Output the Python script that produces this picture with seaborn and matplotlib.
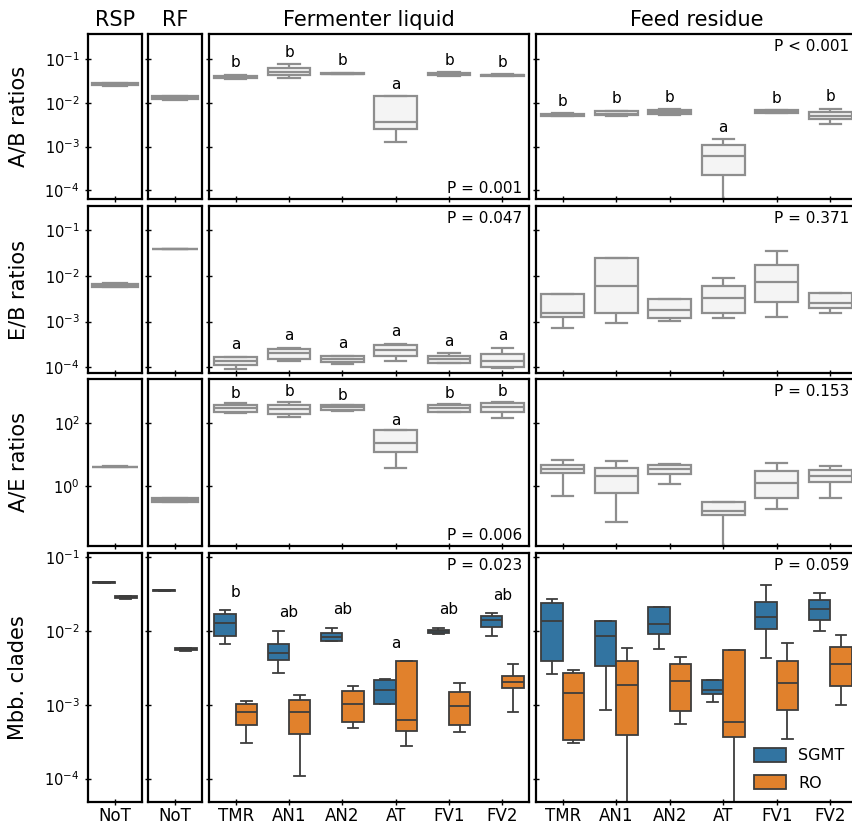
import matplotlib
matplotlib.use("Agg")
import matplotlib.pyplot as plt
import numpy as np
import pandas as pd
import seaborn as sns
from matplotlib.ticker import FixedLocator, NullLocator, LogFormatterSciNotation

# ---------------- data (five-number values per box: min, q1, median, q3, max) -------------
groups = ["TMR", "AN1", "AN2", "AT", "FV1", "FV2"]
not_group = ["NoT"]
hues = ["SGMT", "RO"]
col_titles = ["RSP", "RF", "Fermenter liquid", "Feed residue"]
row_labels = ["A/B ratios", "E/B ratios", "A/E ratios", "Mbb. clades"]

# A/B ratios
ab_rsp = [[0.025, 0.0258, 0.0268, 0.0285, 0.029]]
ab_rf = [[0.0117, 0.0125, 0.0135, 0.0145, 0.0147]]
ab_ferm = [
    [0.036, 0.037, 0.039, 0.042, 0.044],
    [0.038, 0.0436, 0.052, 0.062, 0.078],
    [0.045, 0.046, 0.047, 0.048, 0.049],
    [0.0013, 0.0025, 0.0036, 0.0142, 0.0142],
    [0.042, 0.044, 0.046, 0.049, 0.051],
    [0.041, 0.042, 0.043, 0.044, 0.045],
]
ab_feed = [
    [0.0049, 0.0050, 0.0053, 0.0057, 0.0058],
    [0.0050, 0.0052, 0.0056, 0.0066, 0.0067],
    [0.0053, 0.0055, 0.0062, 0.0070, 0.0072],
    [0.00001, 0.000225, 0.00062, 0.00108, 0.00148],
    [0.0058, 0.0060, 0.0064, 0.0068, 0.0069],
    [0.0033, 0.0044, 0.0051, 0.0062, 0.0073],
]
# E/B ratios
eb_rsp = [[0.0056, 0.0058, 0.0062, 0.0066, 0.00685]]
eb_rf = [[0.0375, 0.0378, 0.038, 0.0382, 0.0385]]
eb_ferm = [
    [0.0000912, 0.000113, 0.000138, 0.000166, 0.00017],
    [0.000142, 0.000151, 0.000204, 0.000251, 0.000269],
    [0.000118, 0.000133, 0.000155, 0.000178, 0.000180],
    [0.000140, 0.000178, 0.00024, 0.000303, 0.000329],
    [0.000125, 0.000128, 0.000155, 0.000182, 0.000204],
    [0.0000995, 0.000101, 0.000138, 0.000193, 0.000269],
]
eb_feed = [
    [0.000713, 0.00128, 0.00151, 0.00394, 0.00394],
    [0.000918, 0.00157, 0.00608, 0.0241, 0.0241],
    [0.00105, 0.0012, 0.00177, 0.00311, 0.00311],
    [0.00118, 0.00151, 0.00333, 0.00598, 0.0088],
    [0.00128, 0.00264, 0.00745, 0.0172, 0.0348],
    [0.00157, 0.00195, 0.00251, 0.00428, 0.00428],
]
# A/E ratios
ae_rsp = [[4.1, 4.15, 4.2, 4.25, 4.3]]
ae_rf = [[0.318, 0.33, 0.37, 0.42, 0.437]]
ae_ferm = [
    [218, 223, 299, 390, 432],
    [155, 193, 285, 392, 487],
    [255, 270, 320, 370, 380],
    [3.95, 12, 24, 61, 61],
    [225, 230, 300, 380, 420],
    [152, 224, 337, 433, 487],
]
ae_feed = [
    [0.49, 2.63, 3.6, 4.7, 6.8],
    [0.076, 0.625, 2.1, 3.98, 6.2],
    [1.16, 2.45, 3.7, 4.7, 5.1],
    [0.005, 0.126, 0.168, 0.324, 0.324],
    [0.19, 0.42, 1.3, 3.0, 5.5],
    [0.43, 1.36, 2.17, 3.3, 4.3],
]
# Mbb. clades (SGMT / RO)
mbb_rsp_sgmt = [[0.0445, 0.0448, 0.0453, 0.0458, 0.046]]
mbb_rsp_ro = [[0.027, 0.0278, 0.0288, 0.0298, 0.030]]
mbb_rf_sgmt = [[0.0348, 0.035, 0.0352, 0.0354, 0.0356]]
mbb_rf_ro = [[0.0054, 0.0055, 0.00565, 0.0058, 0.0059]]
mbb_ferm_sgmt = [
    [0.00673, 0.00864, 0.01285, 0.0168, 0.0189],
    [0.0027, 0.00405, 0.00504, 0.0066, 0.0100],
    [0.0073, 0.0074, 0.00838, 0.0094, 0.0111],
    [0.00101, 0.00103, 0.00158, 0.00214, 0.00221],
    [0.0091, 0.0093, 0.0099, 0.0103, 0.0110],
    [0.00864, 0.0112, 0.0140, 0.0160, 0.0172],
]
mbb_ferm_ro = [
    [0.000302, 0.00053, 0.000804, 0.00102, 0.00113],
    [0.000108, 0.000404, 0.000804, 0.00116, 0.00137],
    [0.000479, 0.000583, 0.00103, 0.00152, 0.00179],
    [0.000276, 0.00044, 0.00062, 0.00388, 0.0039],
    [0.000422, 0.000536, 0.00097, 0.00149, 0.00195],
    [0.000804, 0.0017, 0.00206, 0.00248, 0.00357],
]
mbb_feed_sgmt = [
    [0.00258, 0.00392, 0.01352, 0.0238, 0.0272],
    [0.000848, 0.00339, 0.00863, 0.01352, 0.0138],
    [0.00575, 0.0091, 0.01233, 0.0208, 0.0210],
    [0.00108, 0.00141, 0.00158, 0.00216, 0.00216],
    [0.00426, 0.01054, 0.0155, 0.0245, 0.0421],
    [0.0100, 0.01396, 0.0197, 0.0261, 0.0325],
]
mbb_feed_ro = [
    [0.000305, 0.000329, 0.001455, 0.00267, 0.00296],
    [0.00001, 0.000388, 0.00185, 0.00388, 0.00587],
    [0.000542, 0.000822, 0.0021, 0.00356, 0.0044],
    [0.00001, 0.000361, 0.000589, 0.00552, 0.00552],
    [0.000339, 0.000855, 0.00197, 0.00392, 0.00687],
    [0.00098, 0.00179, 0.00356, 0.00601, 0.00883],
]

# significance letters (None = no letters)
letters_ferm = [
    ["b", "b", "b", "a", "b", "b"],
    ["a", "a", "a", "a", "a", "a"],
    ["b", "b", "b", "a", "b", "b"],
    ["b", "ab", "ab", "a", "ab", "ab"],
]
letters_feed = [
    ["b", "b", "b", "a", "b", "b"],
    None,
    None,
    None,
]
p_ferm = ["P = 0.001", "P = 0.047", "P = 0.006", "P = 0.023"]
p_ferm_pos = ["lower", "upper", "lower", "upper"]
p_feed = ["P < 0.001", "P = 0.371", "P = 0.153", "P = 0.059"]
p_feed_pos = ["upper", "upper", "upper", "upper"]

row_ticks = [[1e-4, 1e-3, 1e-2, 1e-1], [1e-4, 1e-3, 1e-2, 1e-1], [1e0, 1e2], [1e-4, 1e-3, 1e-2, 1e-1]]
row_ylim = [(10 ** -4.2, 10 ** -0.42), (10 ** -4.12, 10 ** -0.48), (10 ** -1.886, 10 ** 3.406),
            (10 ** -4.317, 10 ** -0.946)]
letter_off = [12, 12, 10, 18]

single_rows = [
    [ab_rsp, ab_rf, ab_ferm, ab_feed],
    [eb_rsp, eb_rf, eb_ferm, eb_feed],
    [ae_rsp, ae_rf, ae_ferm, ae_feed],
]
hue_row = [(mbb_rsp_sgmt, mbb_rsp_ro), (mbb_rf_sgmt, mbb_rf_ro),
           (mbb_ferm_sgmt, mbb_ferm_ro), (mbb_feed_sgmt, mbb_feed_ro)]


def frame(cats, boxes):
    recs = [(c, v) for c, b in zip(cats, boxes) for v in b]
    return pd.DataFrame(recs, columns=["group", "value"])


def frame_h(cats, b_s, b_r):
    recs = []
    for c, bs, br in zip(cats, b_s, b_r):
        recs += [(c, "SGMT", v) for v in bs]
        recs += [(c, "RO", v) for v in br]
    return pd.DataFrame(recs, columns=["group", "diet", "value"])


# ---------------- layout ----------------
W, H = 852, 825
fig = plt.figure(figsize=(W / 100, H / 100), dpi=100)
col_left = [88, 148, 209, 536]
col_width = [54, 54, 320, 321]
row_top = [34, 206, 379, 553]
row_bottom = [199, 373, 546, 802]

gray_fill = "#f4f4f4"
gray_line = "#8e8e8e"
palette = {"SGMT": "#3274a1", "RO": "#e1812c"}

for i in range(4):
    for j in range(4):
        ax = fig.add_axes([col_left[j] / W, 1 - row_bottom[i] / H,
                           col_width[j] / W, (row_bottom[i] - row_top[i]) / H])
        cats = not_group if j < 2 else groups
        if i < 3:
            df = frame(cats, single_rows[i][j])
            sns.boxplot(data=df, x="group", y="value", ax=ax, color=gray_fill,
                        linecolor=gray_line, linewidth=1.6, saturation=1,
                        whis=(0, 100), showfliers=False, log_scale=True,
                        width=0.8 if j >= 2 else 0.86)
        else:
            b_s, b_r = hue_row[j]
            df = frame_h(cats, b_s, b_r)
            sns.boxplot(data=df, x="group", y="value", hue="diet", hue_order=hues,
                        palette=palette, ax=ax, linecolor="#3d3d3d", linewidth=1.3,
                        saturation=1, whis=(0, 100), showfliers=False, log_scale=True,
                        legend=(j == 3))
        ax.set_ylim(*row_ylim[i])
        ax.yaxis.set_major_locator(FixedLocator(row_ticks[i]))
        ax.yaxis.set_major_formatter(LogFormatterSciNotation())
        ax.yaxis.set_minor_locator(NullLocator())
        ax.tick_params(axis="both", direction="inout", length=5, width=1, color="black")
        ax.tick_params(axis="y", labelsize=10.5)
        ax.tick_params(axis="x", labelsize=12, pad=0.8)
        ax.set_xlabel("")
        if j == 0:
            ax.set_ylabel(row_labels[i], fontsize=15)
            ax.yaxis.set_label_coords(-1.11, 0.5)
        else:
            ax.set_ylabel("")
            ax.tick_params(axis="y", labelleft=False)
        if i < 3:
            ax.tick_params(axis="x", labelbottom=False)
        if i == 0:
            ax.set_title(col_titles[j], fontsize=15, pad=6)
        for s in ax.spines.values():
            s.set_linewidth(1.6)
            s.set_color("black")

        # significance letters
        if j >= 2:
            lets = letters_ferm[i] if j == 2 else letters_feed[i]
            if lets is not None:
                if i < 3:
                    tops = [max(b) for b in single_rows[i][j]]
                else:
                    tops = [max(max(a), max(b)) for a, b in zip(*hue_row[j])]
                for k, (lt, tp) in enumerate(zip(lets, tops)):
                    ax.annotate(lt, (k, tp), xytext=(0, letter_off[i]),
                                textcoords="offset pixels", ha="center", va="center",
                                fontsize=11)
            ptxt = p_ferm[i] if j == 2 else p_feed[i]
            ppos = p_ferm_pos[i] if j == 2 else p_feed_pos[i]
            xr = 1 - 7 / col_width[j] if j == 2 else 1 - 8 / col_width[j]
            if ppos == "upper":
                ax.text(xr, 1 - 5 / (row_bottom[i] - row_top[i]), ptxt, transform=ax.transAxes,
                        ha="right", va="top", fontsize=11)
            else:
                ax.text(xr, 3 / (row_bottom[i] - row_top[i]), ptxt, transform=ax.transAxes,
                        ha="right", va="bottom", fontsize=11)
        if i == 3 and j == 3:
            sns.move_legend(ax, "lower right", frameon=False, title=None, fontsize=11.5,
                            handlelength=2.0, handleheight=0.9, labelspacing=0.75,
                            bbox_to_anchor=(1 + 2 / col_width[j], -0.012))

fig.savefig("out.png", dpi=100)
